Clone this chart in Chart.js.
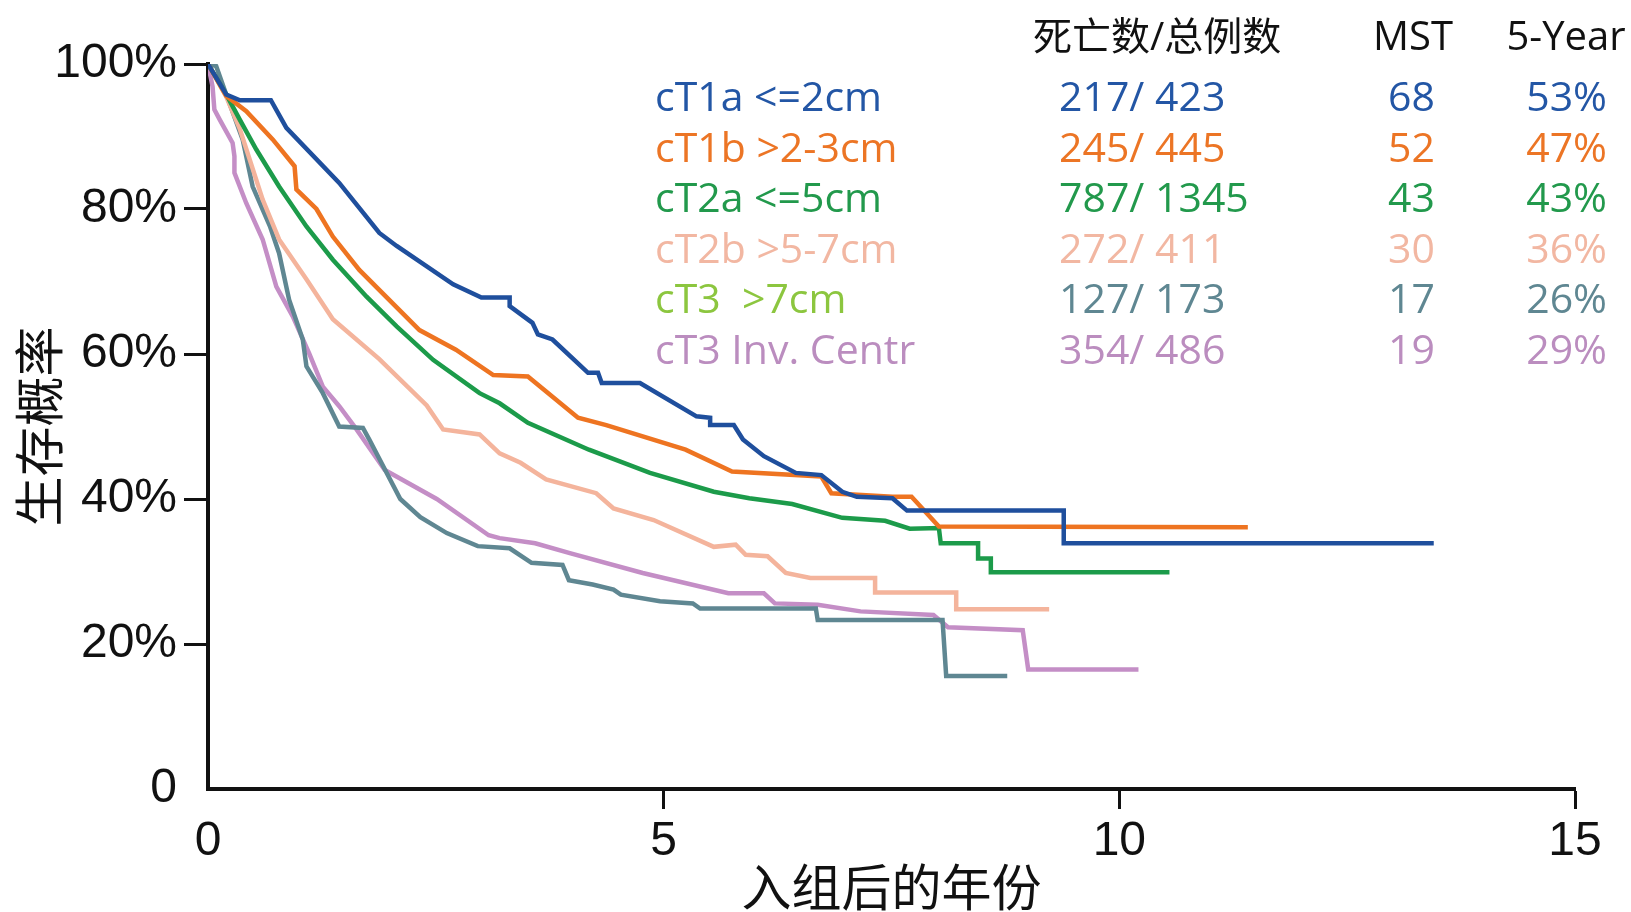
<!DOCTYPE html>
<html>
<head>
<meta charset="utf-8">
<script src="https://cdn.jsdelivr.net/npm/chart.js@4/dist/chart.umd.min.js"></script>
<style>
  html, body { margin: 0; padding: 0; background: #fff; }
  #wrap { width: 1631px; height: 912px; position: relative; }
</style>
</head>
<body>
<div id="wrap"><canvas id="km"></canvas></div>
<script>
// Kaplan-Meier survival by clinical T category (years since enrolment, survival %)
const groupLabels = ['cT1a <=2cm', 'cT1b >2-3cm', 'cT2a <=5cm', 'cT2b >5-7cm', 'cT3  >7cm', 'cT3 Inv. Centr'];
const deathsTotals = ['217/ 423', '245/ 445', '787/ 1345', '272/ 411', '127/ 173', '354/ 486'];
const mstValues = ['68', '52', '43', '30', '17', '19'];
const fiveYear = ['53%', '47%', '43%', '36%', '26%', '29%'];
const tableHeaders = ['死亡数/总例数', 'MST', '5-Year'];

const xTickValues = [0, 5, 10, 15];
const yTickValues = [0, 20, 40, 60, 80, 100];

const t1aYears = [0, 0.2, 0.35, 0.69, 0.86, 1.44, 1.88, 2.07, 2.69, 3.0, 3.31, 3.31, 3.56, 3.62, 3.78, 4.17, 4.28, 4.32, 4.74, 5.36, 5.51, 5.51, 5.77, 5.87, 6.10, 6.45, 6.73, 6.96, 7.12, 7.51, 7.67, 9.39, 9.39, 13.45];
const t1aSurv  = [100, 95.8, 95.0, 95.0, 91.2, 83.6, 76.7, 74.9, 69.6, 67.8, 67.8, 66.6, 64.3, 62.7, 62.0, 57.4, 57.4, 56.0, 56.0, 51.4, 51.2, 50.2, 50.2, 48.2, 45.9, 43.6, 43.3, 41.0, 40.3, 40.1, 38.4, 38.4, 33.9, 33.9];

const t1bYears = [0, 0.2, 0.42, 0.71, 0.95, 0.97, 1.19, 1.37, 1.66, 2.32, 2.72, 3.13, 3.51, 4.06, 4.37, 5.24, 5.75, 6.73, 6.84, 7.51, 7.72, 8.02, 11.41];
const t1bSurv  = [100, 95.6, 93.5, 89.6, 85.9, 82.7, 80.0, 76.2, 71.6, 63.3, 60.6, 57.1, 56.9, 51.2, 50.2, 46.8, 43.8, 43.1, 40.8, 40.3, 40.3, 36.2, 36.1];

const t2aYears = [0, 0.2, 0.35, 0.53, 0.78, 1.08, 1.37, 1.74, 2.07, 2.47, 2.98, 3.2, 3.51, 4.18, 4.85, 5.55, 5.94, 6.41, 6.96, 7.43, 7.70, 8.02, 8.04, 8.45, 8.45, 8.59, 8.59, 10.55];
const t2aSurv  = [100, 95.8, 92.3, 88.2, 83.1, 77.6, 73.0, 67.9, 63.8, 59.2, 54.6, 53.2, 50.5, 46.8, 43.6, 41.0, 40.1, 39.3, 37.4, 37.0, 35.9, 36.0, 33.9, 33.9, 31.8, 31.8, 29.9, 29.9];

const t2bYears = [0, 0.2, 0.35, 0.60, 0.78, 1.08, 1.37, 1.88, 2.40, 2.58, 2.98, 3.2, 3.43, 3.71, 4.26, 4.45, 4.89, 5.55, 5.79, 5.90, 6.14, 6.34, 6.61, 7.32, 7.32, 8.21, 8.21, 9.23];
const t2bSurv  = [100, 95.5, 91.0, 81.3, 75.8, 70.3, 64.8, 59.3, 52.9, 49.6, 48.9, 46.3, 45.0, 42.7, 40.8, 38.7, 37.1, 33.4, 33.7, 32.3, 32.1, 29.8, 29.1, 29.1, 27.1, 27.1, 24.8, 24.8];

const t3Years = [0, 0.09, 0.2, 0.38, 0.49, 0.68, 0.78, 0.89, 1.04, 1.08, 1.26, 1.44, 1.70, 1.77, 2.11, 2.33, 2.62, 2.96, 3.31, 3.55, 3.89, 3.96, 4.22, 4.45, 4.53, 4.96, 5.32, 5.40, 6.67, 6.69, 8.06, 8.10, 8.77];
const t3Surv  = [100, 99.7, 95.8, 89.6, 83.1, 77.6, 73.9, 67.5, 62.0, 58.3, 54.6, 50.0, 49.8, 48.2, 40.0, 37.5, 35.3, 33.5, 33.2, 31.2, 30.9, 28.8, 28.2, 27.5, 26.8, 25.9, 25.6, 24.9, 24.9, 23.3, 23.3, 15.6, 15.6];

const t3InvYears = [0, 0.05, 0.07, 0.13, 0.27, 0.29, 0.29, 0.42, 0.60, 0.75, 0.93, 1.11, 1.26, 1.44, 1.63, 1.94, 2.51, 3.08, 3.2, 3.59, 3.98, 4.77, 5.71, 6.10, 6.22, 6.69, 7.16, 7.96, 8.12, 8.94, 9.0, 10.21];
const t3InvSurv  = [100, 96.9, 93.7, 92.3, 89.1, 87.3, 85.0, 80.8, 75.8, 69.3, 65.2, 60.1, 55.5, 52.8, 49.6, 44.0, 40.0, 35.0, 34.6, 33.9, 32.5, 29.8, 27.0, 27.0, 25.6, 25.4, 24.5, 24.0, 22.3, 21.9, 16.5, 16.5];

const lineColors  = ['#1f4f9d', '#ee7421', '#1c9b4a', '#f4b49c', '#5f8792', '#c48ec6'];
const labelColors = ['#2356a5', '#ec7525', '#22994c', '#f2b7a2', '#8cc63f', '#bb8dbf'];
const valueColors = ['#2356a5', '#ec7525', '#22994c', '#f2b7a2', '#5f8792', '#bb8dbf'];

const seriesYears = [t1aYears, t1bYears, t2aYears, t2bYears, t3Years, t3InvYears];
const seriesSurv  = [t1aSurv, t1bSurv, t2aSurv, t2bSurv, t3Surv, t3InvSurv];

const datasets = groupLabels.map((lab, i) => ({
  label: lab,
  data: seriesYears[i].map((x, k) => ({ x: x, y: seriesSurv[i][k] })),
  borderColor: lineColors[i],
  borderWidth: 4.5,
  pointRadius: 0,
  tension: 0,
  fill: false,
  borderJoinStyle: 'miter'
}));

const tickFont = { family: "'Liberation Sans', Arial, sans-serif", size: 48 };
const cjkFont = "'Noto Sans CJK SC', sans-serif";
const tableFont = "'Open Sans', 'Noto Sans CJK SC', sans-serif";

// Summary table drawn at the top right of the plot
const tablePlugin = {
  id: 'kmTable',
  afterDraw(chart) {
    const ctx = chart.ctx;
    ctx.save();
    ctx.textBaseline = 'alphabetic';
    ctx.fillStyle = '#111';
    ctx.font = '39px ' + tableFont;
    ctx.textAlign = 'left';
    ctx.fillText(tableHeaders[0], 1033, 50);
    ctx.font = '40px ' + tableFont;
    ctx.textAlign = 'center';
    ctx.fillText(tableHeaders[1], 1413, 50);
    ctx.fillText(tableHeaders[2], 1566, 50);

    ctx.font = '41px ' + tableFont;
    groupLabels.forEach((lab, i) => {
      const base = 111 + i * 50.6;
      ctx.textAlign = 'left';
      ctx.fillStyle = labelColors[i];
      ctx.fillText(lab, 655, base);
      ctx.fillStyle = valueColors[i];
      ctx.fillText(deathsTotals[i], 1059, base);
      ctx.textAlign = 'right';
      ctx.fillText(mstValues[i], 1435, base);
      ctx.fillText(fiveYear[i], 1607, base);
    });
    ctx.restore();
  }
};

const hideZeroTick = (c) => (c.tick && c.tick.value === 0) ? 'rgba(0,0,0,0)' : '#111';

new Chart(document.getElementById('km'), {
  type: 'line',
  data: { datasets },
  plugins: [tablePlugin],
  options: {
    responsive: true,
    maintainAspectRatio: false,
    animation: false,
    layout: { padding: { left: 0, right: 56, top: 64, bottom: 0 } },
    plugins: { legend: { display: false }, tooltip: { enabled: false } },
    scales: {
      x: {
        type: 'linear',
        min: 0, max: 15,
        afterBuildTicks: (s) => { s.ticks = xTickValues.map(v => ({ value: v })); },
        afterFit: (s) => { s.height = 123; },
        border: { display: true, color: '#111', width: 4 },
        grid: { drawOnChartArea: false, drawTicks: true, tickLength: 20, tickWidth: 3, tickColor: hideZeroTick },
        ticks: { color: '#111', font: tickFont, padding: 4, maxRotation: 0, autoSkip: false },
        title: { display: true, text: '入组后的年份', color: '#111', font: { family: cjkFont, size: 50, lineHeight: 1 }, padding: { top: 0, bottom: 0 } }
      },
      y: {
        type: 'linear',
        min: 0, max: 100,
        afterBuildTicks: (s) => { s.ticks = yTickValues.map(v => ({ value: v })); },
        afterFit: (s) => { s.width = 208; },
        border: { display: true, color: '#111', width: 4 },
        grid: { drawOnChartArea: false, drawTicks: true, tickLength: 24, tickWidth: 3, tickColor: hideZeroTick },
        ticks: { color: '#111', font: tickFont, padding: 7, callback: (v) => v === 0 ? '0' : v + '%' },
        title: { display: true, text: '生存概率', color: '#111', font: { family: cjkFont, size: 50, lineHeight: 1 }, padding: { top: 14, bottom: 0 } }
      }
    }
  }
});
</script>
</body>
</html>
